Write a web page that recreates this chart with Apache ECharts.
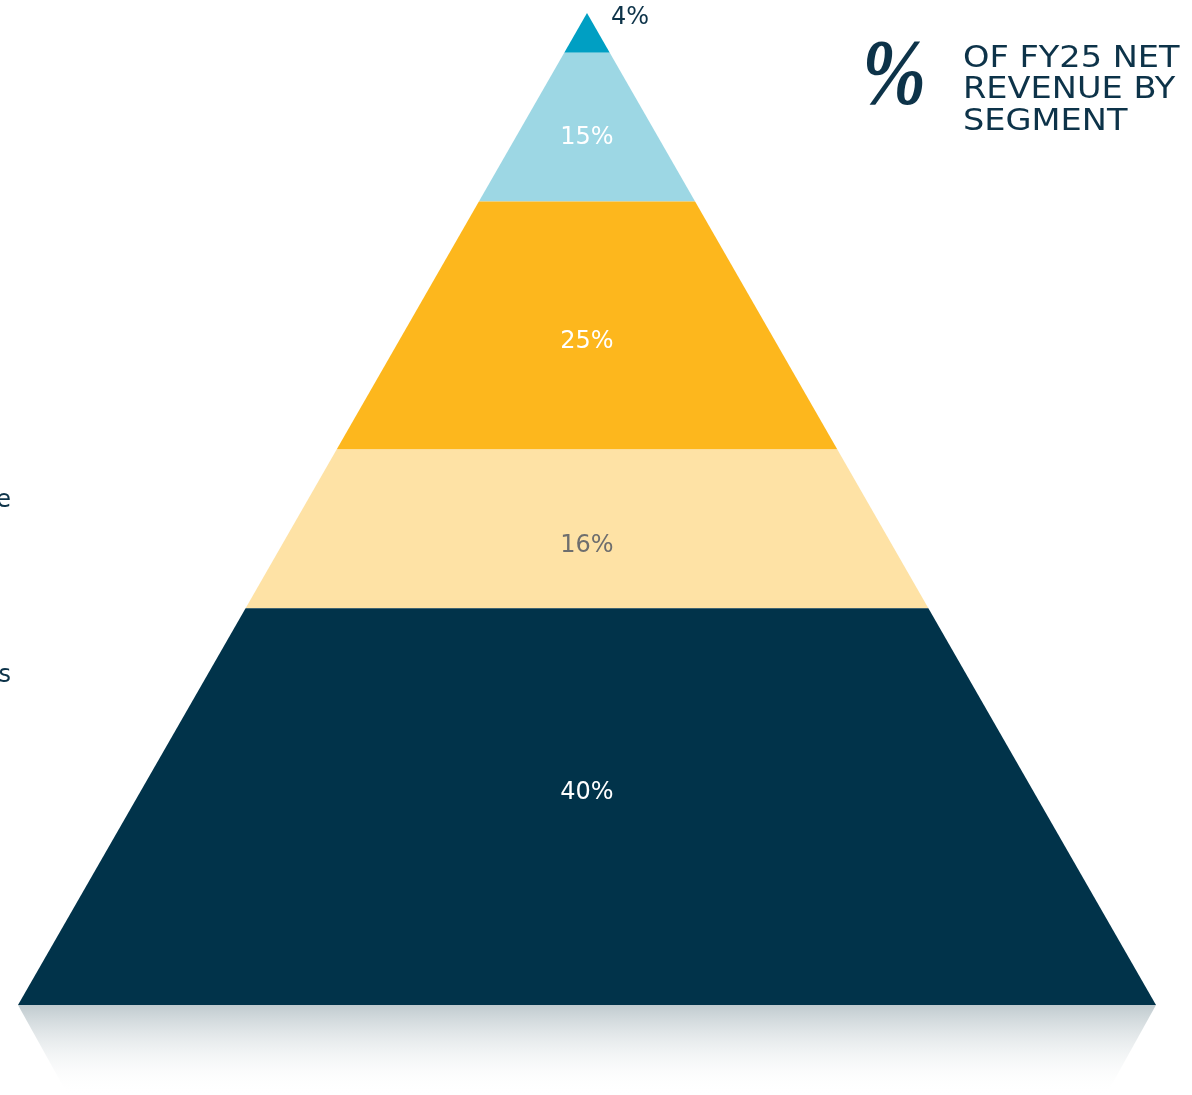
<!DOCTYPE html>
<html>
<head>
<meta charset="utf-8">
<script src="https://cdn.jsdelivr.net/npm/echarts@6/dist/echarts.min.js"></script>
<style>html,body{margin:0;padding:0;background:#fff}#c{width:1192px;height:1095px}</style>
</head>
<body>
<div id="c"></div>
<script>
// Data
const segmentShares = [4, 15, 25, 16, 40];            // % of FY25 net revenue, from top to bottom
const segmentLabels = ['4%', '15%', '25%', '16%', '40%'];
const titleLines = ['OF FY25 NET', 'REVENUE BY', 'SEGMENT'];
const sideLabels = ['e', 's'];

// Styles
const fillColors = ['#009fc3', '#9dd7e4', '#fdb71d', '#fee2a5', '#01334a'];
const textColors = ['#0d3349', '#ffffff', '#ffffff', '#6e6e6e', '#ffffff'];
const labelFraction = [0, 0.56, 0.558, 0.595, 0.461];
const navy = '#0d3349';
const labelFont = '24px "DejaVu Sans"';

// build cumulative data
let acc = 0;
const data = segmentShares.map((v, i) => {
  const s = acc; acc += v;
  return [s, acc, v, i];
});

const chart = echarts.init(document.getElementById('c'), null, {renderer: 'canvas'});

function renderItem(params, api) {
  const c0 = api.value(0), c1 = api.value(1), idx = api.value(3);
  const pts = [api.coord([-c0, c0]), api.coord([c0, c0]), api.coord([c1, c1]), api.coord([-c1, c1])];
  const children = [];
  if (idx === segmentShares.length - 1) {
    const bl = pts[3], br = pts[2];
    children.push({
      type: 'polygon',
      shape: {points: [[bl[0], bl[1]], [br[0], br[1]], [br[0] - 50, br[1] + 90], [bl[0] + 50, bl[1] + 90]]},
      style: {fill: new echarts.graphic.LinearGradient(0, 0, 0, 1, [
        {offset: 0, color: 'rgba(150,168,175,0.6)'},
        {offset: 1, color: 'rgba(255,255,255,0)'}
      ])},
      silent: true
    });
  }
  children.push({type: 'polygon', shape: {points: pts}, style: {fill: fillColors[idx]}});
  let tx, ty, align;
  if (idx === 0) {
    tx = pts[0][0] + 24; ty = pts[0][1] + 5; align = 'left';
  } else {
    tx = (pts[0][0] + pts[1][0]) / 2;
    ty = pts[0][1] + (pts[3][1] - pts[0][1]) * labelFraction[idx] + 2;
    align = 'center';
  }
  children.push({
    type: 'text', x: tx, y: ty,
    style: {text: segmentLabels[idx], fill: textColors[idx], font: labelFont, align: align, verticalAlign: 'middle'}
  });
  return {type: 'group', children: children};
}

chart.setOption({
  animation: false,
  backgroundColor: '#ffffff',
  grid: {left: 18, right: 36, top: 13, bottom: 90},
  xAxis: {type: 'value', min: -100, max: 100, show: false},
  yAxis: {type: 'value', min: 0, max: 100, inverse: true, show: false},
  graphic: [
    {type: 'text', x: 862, y: 32, scaleX: 0.82, style: {text: '%', fill: navy, font: 'italic bold 94px "Liberation Serif"'}},
    {type: 'text', x: 963, y: 43, scaleX: 1.12, style: {text: titleLines.join('\n'), fill: navy, font: '30px "DejaVu Sans"', lineHeight: 31.5}},
    {type: 'text', x: 11, y: 501, style: {text: sideLabels[0], fill: navy, font: labelFont, align: 'right', verticalAlign: 'middle'}},
    {type: 'text', x: 11, y: 676, style: {text: sideLabels[1], fill: navy, font: labelFont, align: 'right', verticalAlign: 'middle'}}
  ],
  series: [{
    type: 'custom',
    renderItem: renderItem,
    encode: {x: [0, 1], y: [0, 1]},
    data: data
  }]
});
</script>
</body>
</html>
